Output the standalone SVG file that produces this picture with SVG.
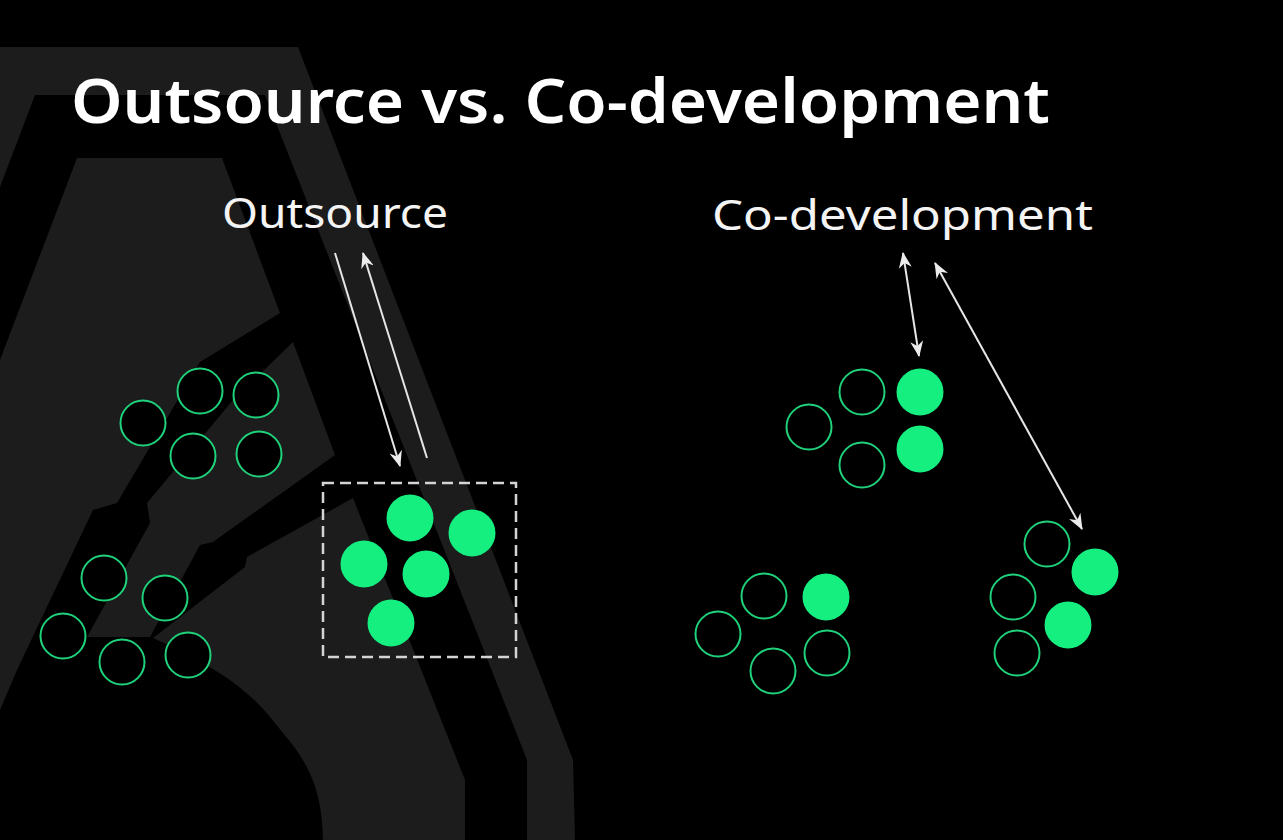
<svg xmlns="http://www.w3.org/2000/svg" width="1283" height="840" viewBox="0 0 1283 840">
<style>
.bg{fill:#1c1c1c;}
.ring{fill:#000;stroke:#1fd17a;stroke-width:2;}
.dot{fill:#14ef80;}
.title{font-family:"Noto Sans","Open Sans","Liberation Sans",sans-serif;font-weight:600;fill:#ffffff;}
.sub{font-family:"Noto Sans","Open Sans","Liberation Sans",sans-serif;font-weight:400;fill:#f4f4f4;}
.conn{stroke:#e6e6e6;stroke-width:2;fill:none;}
</style>
<defs>
<marker id="ah" viewBox="0 0 16 13" refX="15" refY="6.5" markerWidth="16" markerHeight="13" markerUnits="userSpaceOnUse" orient="auto-start-reverse">
<path d="M0,0 L16,6.5 L0,13 L5,6.5 Z" fill="#ececec"/>
</marker>
</defs>
<rect x="0" y="0" width="1283" height="840" fill="#000"/>
<g id="background">
<polygon class="bg" points="0,47 298,47 573,760 575,840 527,840 527,760 265,95 35,95 0,187"/>
<polygon class="bg" points="77,158 222,158 280,313 200,362 117,503 93,510 17,670 0,710 0,360"/>
<polygon class="bg" points="293,342 335,455 300,480 213,542 200,545 150,637 87,637 150,523 147,503 233,400"/>
<path class="bg" d="M353,498 L465,780 L465,840 L323,840 C322,800 315,770 283,733 C260,705 245,680 153,638 L245,567 L247,557 Z"/>
</g>
<text class="title" x="71" y="123" font-size="62" textLength="979" lengthAdjust="spacingAndGlyphs">Outsource vs. Co-development</text>
<g id="label-outsource"><text class="sub" x="222" y="228" font-size="42" textLength="226" lengthAdjust="spacingAndGlyphs">Outsource</text></g>
<g id="label-codev"><text class="sub" x="712" y="230" font-size="42" textLength="381" lengthAdjust="spacingAndGlyphs">Co-development</text></g>
<g id="group-left-top">
<circle class="ring" cx="143" cy="423" r="22.5"/>
<circle class="ring" cx="200" cy="391" r="22.5"/>
<circle class="ring" cx="256" cy="395" r="22.5"/>
<circle class="ring" cx="193" cy="456" r="22.5"/>
<circle class="ring" cx="259" cy="454" r="22.5"/>
</g>
<g id="group-left-bottom">
<circle class="ring" cx="104" cy="578" r="22.5"/>
<circle class="ring" cx="165" cy="598" r="22.5"/>
<circle class="ring" cx="63" cy="636" r="22.5"/>
<circle class="ring" cx="122" cy="662" r="22.5"/>
<circle class="ring" cx="188" cy="655" r="22.5"/>
</g>
<g id="outsourced-team">
<rect x="323" y="483" width="193" height="174" fill="none" stroke="#d4d4d4" stroke-width="2.5" stroke-dasharray="11,6"/>
<circle class="dot" cx="410" cy="518" r="23.5"/>
<circle class="dot" cx="472" cy="533" r="23.5"/>
<circle class="dot" cx="364" cy="564" r="23.5"/>
<circle class="dot" cx="426" cy="574" r="23.5"/>
<circle class="dot" cx="391" cy="623" r="23.5"/>
</g>
<g id="group-right-top">
<circle class="ring" cx="862" cy="392" r="22.5"/>
<circle class="dot" cx="920" cy="392" r="23.5"/>
<circle class="ring" cx="809" cy="427" r="22.5"/>
<circle class="ring" cx="862" cy="465" r="22.5"/>
<circle class="dot" cx="920" cy="449" r="23.5"/>
</g>
<g id="group-right-bottom-left">
<circle class="ring" cx="764" cy="596" r="22.5"/>
<circle class="dot" cx="826" cy="597" r="23.5"/>
<circle class="ring" cx="718" cy="634" r="22.5"/>
<circle class="ring" cx="827" cy="653" r="22.5"/>
<circle class="ring" cx="773" cy="671" r="22.5"/>
</g>
<g id="group-right-bottom-right">
<circle class="ring" cx="1047" cy="544" r="22.5"/>
<circle class="dot" cx="1095" cy="572" r="23.5"/>
<circle class="ring" cx="1013" cy="597" r="22.5"/>
<circle class="dot" cx="1068" cy="625" r="23.5"/>
<circle class="ring" cx="1017" cy="653" r="22.5"/>
</g>
<g id="connectors">
<line class="conn" x1="335" y1="253" x2="400" y2="466" marker-end="url(#ah)"/>
<line class="conn" x1="427" y1="458" x2="363" y2="253" marker-end="url(#ah)"/>
<line class="conn" x1="903" y1="253" x2="919" y2="356" marker-start="url(#ah)" marker-end="url(#ah)"/>
<line class="conn" x1="935" y1="263" x2="1082" y2="529" marker-start="url(#ah)" marker-end="url(#ah)"/>
</g>
</svg>
